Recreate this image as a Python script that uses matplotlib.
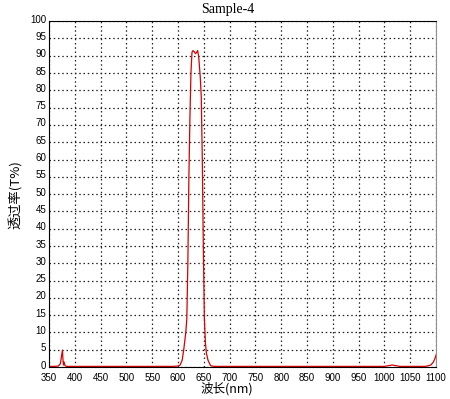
import matplotlib
matplotlib.use("Agg")
import matplotlib.pyplot as plt
import matplotlib.transforms as mtransforms
import numpy as np

# wavelength (nm) and transmittance (%)
wavelength = [350, 360, 368, 372, 374, 376, 377, 378, 379, 381, 384, 390, 450, 500, 550, 590, 600,
              604, 608, 611, 615, 617, 619, 621, 623, 625, 627, 629, 631, 634, 636, 638, 640, 643,
              645, 647, 649, 651, 653, 655, 658, 663, 670, 700, 800, 900, 1000, 1015, 1030, 1080,
              1090, 1095, 1098, 1100]
transmit = [0.2, 0.2, 0.3, 1.0, 3.0, 4.9, 2.0, 0.6, 1.5, 0.4, 0.2, 0.2, 0.2, 0.2, 0.2, 0.2, 0.3,
            0.6, 2.0, 5.0, 10.0, 14.0, 30.0, 55.0, 72.0, 85.0, 91.0, 91.5, 91.2, 90.6, 91.0, 91.5, 89.7, 84.0,
            78.0, 60.0, 35.0, 14.0, 7.0, 4.0, 2.0, 0.4, 0.2, 0.2, 0.2, 0.2, 0.2, 0.6, 0.2, 0.2,
            0.6, 1.5, 2.5, 3.5]

xticks = list(range(350, 1101, 50))
yticks = list(range(0, 101, 5))

fig = plt.figure(figsize=(4.5, 3.99), dpi=100)
ax = fig.add_axes([0.109, 0.080, 0.860, 0.867])

ax.plot(wavelength, transmit, color="#d80000", linewidth=0.9)

ax.set_xlim(350, 1100)
ax.set_ylim(0, 100)
ax.set_xticks(xticks)
ax.set_yticks(yticks)
ax.grid(True, color="#222222", linestyle=(0, (1.2, 2.2)), linewidth=0.9)
ax.tick_params(length=0, labelsize=7)
ax.tick_params(axis="x", pad=4)
ax.tick_params(axis="y", pad=2)
for lab in ax.get_xticklabels() + ax.get_yticklabels():
    lab.set_family("Liberation Sans")
# y labels sit a little above their grid lines in the original
shift = mtransforms.ScaledTranslation(0, 2.5 / 100, fig.dpi_scale_trans)
for lab in ax.get_yticklabels():
    lab.set_transform(lab.get_transform() + shift)

for side in ["left", "top", "bottom"]:
    ax.spines[side].set_color("black")
ax.spines["right"].set_color("#909090")

fig.text(0.505, 0.975, "Sample-4", ha="center", va="center",
         family="Liberation Serif", fontsize=10)
fig.text(0.505, 0.025, "波长(nm)", ha="center", va="center",
         family=["Noto Sans CJK SC", "DejaVu Sans"], fontsize=9)
fig.text(0.035, 0.513, "透过率(T%)", ha="center", va="center", rotation=90,
         family=["Noto Sans CJK SC", "DejaVu Sans"], fontsize=9.5)

fig.savefig("out.png", dpi=100)
